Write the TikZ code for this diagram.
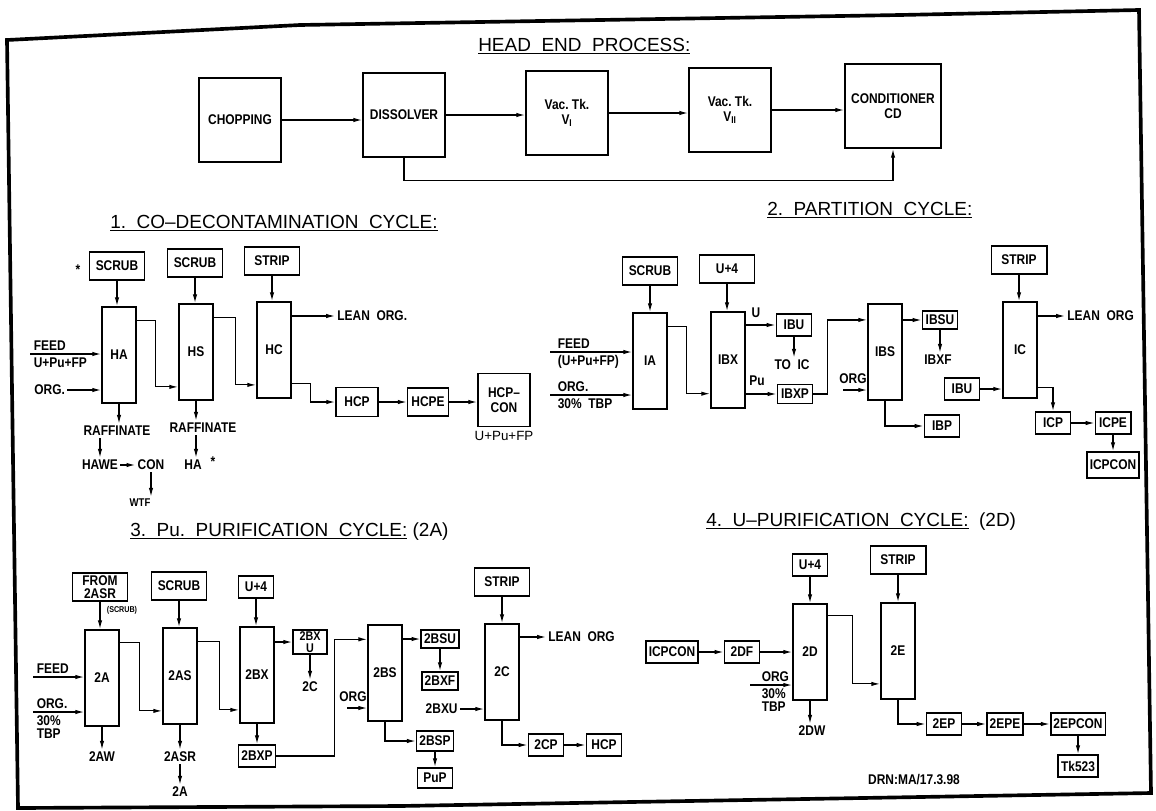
\documentclass[tikz,border=0pt]{standalone}
\usepackage{fontspec}
\setmainfont{Liberation Sans}[FakeStretch=0.85]
\newfontfamily\cyclefamily{Liberation Sans}[Ligatures=TeX]
\newcommand\unitfont{\bfseries\fontsize{10}{11}\selectfont}
\newcommand\cyclefont{\cyclefamily\fontsize{13.5}{15}\selectfont}
\usetikzlibrary{arrows.meta,positioning}
\tikzset{
  vessel/.style={draw, line width=1.25pt, inner sep=2pt, font=\unitfont, align=center},
  col/.style={vessel, minimum width=0.85cm, minimum height=2.4cm},
  tank/.style={vessel, minimum width=2.05cm, minimum height=2.1cm},
  feedbox/.style={vessel, minimum width=1.38cm, minimum height=0.7cm},
  smallbox/.style={vessel, minimum width=0.88cm, minimum height=0.55cm},
  lbl/.style={inner sep=1.5pt, font=\unitfont, align=center},
  linelbl/.style={lbl, inner sep=2.5pt, align=left},
  cycletitle/.style={anchor=base west, inner sep=0pt, font=\cyclefont},
  flow/.style={-{Latex[length=2.2mm,width=1.1mm]}, line width=0.85pt},
}
\begin{document}
\begin{tikzpicture}[x=0.025cm, y=-0.025cm]
\useasboundingbox (0,0) rectangle (1156,810);
\draw[line width=2.6pt] (7,40) -- (300,25) -- (900,15) -- (1139,10) -- (1151,793) -- (400,806) -- (18,808) -- cycle;

\node[cycletitle] (headT) at (478,51) {\underline{HEAD\ \ END\ \ PROCESS:}};
\node[tank] (chop) at (240,120) {CHOPPING};
\node[tank] (diss) at (404,115) {DISSOLVER};
\node[tank] (vacA) at (567,113) {Vac.\ Tk.\\V\textsubscript{I}};
\node[tank] (vacB) at (730,110) {Vac.\ Tk.\\V\textsubscript{II}};
\node[tank, minimum width=2.4cm] (cond) at (893,106) {CONDITIONER\\CD};
\draw[flow] (chop.east) -- (chop.east -| diss.west);
\draw[flow] (diss.east) -- (diss.east -| vacA.west);
\draw[flow] (vacA.east) -- (vacA.east -| vacB.west);
\draw[flow] (vacB.east) -- (vacB.east -| cond.west);
\draw[flow] (diss.south) -- ++(0,23) -| (cond.south);

\node[cycletitle] (coT) at (110,228) {\underline{1.\ \ CO--DECONTAMINATION\ \ CYCLE:}};
\node[lbl] (starA) at (78,270) {*};
\node[feedbox] (scrubA) at (117,266) {SCRUB};
\node[feedbox] (scrubB) at (195,263) {SCRUB};
\node[feedbox] (stripA) at (272,261) {STRIP};
\node[col] (HA) at (119,355) {HA};
\node[col] (HS) at (196,352) {HS};
\node[col] (HC) at (274,350) {HC};
\draw[flow] (scrubA.south) -- (scrubA.south |- HA.north);
\draw[flow] (scrubB.south) -- (scrubB.south |- HS.north);
\draw[flow] (stripA.south) -- (stripA.south |- HC.north);
\coordinate (feedAin) at (30,354);
\node[linelbl, anchor=south west] (feedA) at (feedAin) {FEED};
\node[linelbl, anchor=north west] (feedAu) at (feedAin) {U+Pu+FP};
\draw[flow] (feedAin) -- (feedAin -| HA.west);
\node[lbl, anchor=west] (orgA) at (32,390) {ORG.};
\draw[flow] (orgA.east) -- (orgA.east -| HA.west);
\draw[flow] ([yshift=-0.35cm]HA.north east) -- ++(19,0) |- ([yshift=0.35cm]HS.south west);
\draw[flow] ([yshift=-0.35cm]HS.north east) -- ++(22,0) |- ([yshift=0.35cm]HC.south west);
\node[lbl, anchor=west] (leanA) at (335,316) {LEAN\ \ ORG.};
\draw[flow] (leanA.west -| HC.east) -- (leanA.west);
\node[vessel, minimum width=1.05cm, minimum height=0.72cm] (hcpA) at (357,402) {HCP};
\node[vessel, minimum width=1.02cm, minimum height=0.7cm] (hcpe) at (428,402) {HCPE};
\node[vessel, minimum width=1.3cm, minimum height=1.32cm] (hcpcon) at (504,400) {HCP--\\CON};
\node[lbl, font=\cyclefamily\fontsize{9.5}{10}\selectfont, below=1pt of hcpcon] (hcpconU) {U+Pu+FP};
\draw[flow] ([yshift=0.38cm]HC.south east) -- ++(19,0) |- (hcpA.west);
\draw[flow] (hcpA) -- (hcpe);
\draw[flow] (hcpe.east) -- (hcpe.east -| hcpcon.west);
\node[lbl] (rafA) at (117,431) {RAFFINATE};
\draw[flow] (HA.south) -- (HA.south |- rafA.north);
\node[lbl] (hawe) at (100,465) {HAWE};
\draw[flow] (rafA.south -| hawe) -- (hawe.north);
\node[lbl] (conA) at (151,465) {CON};
\draw[flow] (hawe) -- (conA);
\node[lbl, font=\bfseries\fontsize{8}{9}\selectfont] (wtf) at (140,503) {WTF};
\draw[flow] (conA.south) -- (conA.south |- wtf.north);
\node[lbl] (rafB) at (203,428) {RAFFINATE};
\draw[flow] (HS.south) -- (HS.south |- rafB.north);
\node[lbl] (haB) at (193,465) {HA};
\node[lbl] (starB) at (213,462) {*};
\draw[flow] (rafB.south -| HS.south) -- (HS.south |- haB.north);

\node[cycletitle] (partT) at (767,215) {\underline{2.\ \ PARTITION\ \ CYCLE:}};
\node[feedbox] (scrubC) at (650,271) {SCRUB};
\node[feedbox] (uplusA) at (727,269) {U+4};
\node[col] (IA) at (650,361) {IA};
\node[col] (IBX) at (728,360) {IBX};
\draw[flow] (scrubC.south) -- (scrubC.south |- IA.north);
\draw[flow] (uplusA.south) -- (uplusA.south |- IBX.north);
\coordinate (feedBin) at (550,352);
\node[linelbl, anchor=south west] (feedB) at ([xshift=0.1cm]feedBin) {FEED};
\node[linelbl, anchor=north west] (feedBu) at ([xshift=0.1cm]feedBin) {(U+Pu+FP)};
\draw[flow] (feedBin) -- (feedBin -| IA.west);
\coordinate (orgBin) at (550,395);
\node[linelbl, anchor=south west] (orgB) at ([xshift=0.1cm]orgBin) {ORG.};
\node[linelbl, anchor=north west] (tbpB) at ([xshift=0.1cm]orgBin) {30\%\ \ TBP};
\draw[flow] (orgBin) -- (orgBin -| IA.west);
\draw[flow] ([yshift=-0.35cm]IA.north east) -- ++(19,0) |- ([yshift=0.38cm]IBX.south west);
\node[smallbox] (ibuA) at (794,325) {IBU};
\node[lbl] (uOut) at (756,313) {U};
\draw[flow] (ibuA.west -| IBX.east) -- (ibuA.west);
\node[lbl] (toic) at (792,365) {TO\ \ IC};
\draw[flow] (ibuA.south) -- (ibuA.south |- toic.north);
\node[smallbox, minimum height=0.48cm] (ibxp) at (795,394) {IBXP};
\node[lbl] (puOut) at (757,381) {Pu};
\draw[flow] (ibxp.west -| IBX.east) -- (ibxp.west);
\node[col] (IBS) at (885,352) {IBS};
\draw[flow] (ibxp.east) -- ++(14,0) |- ([yshift=-0.42cm]IBS.north west);
\coordinate (orgCin) at (843,390);
\node[lbl] (orgC) at (853,379) {ORG};
\draw[flow] (orgCin) -- (orgCin -| IBS.west);
\node[smallbox, minimum height=0.45cm] (ibsu) at (940,320) {IBSU};
\draw[flow] (ibsu.west -| IBS.east) -- (ibsu.west);
\node[lbl] (ibxf) at (938,360) {IBXF};
\draw[flow] (ibsu.south) -- (ibsu.south |- ibxf.north);
\node[smallbox] (ibp) at (942,426) {IBP};
\draw[flow] (IBS.south) |- (ibp.west);
\node[feedbox] (stripB) at (1019,260) {STRIP};
\node[col] (IC) at (1020,350) {IC};
\draw[flow] (stripB.south) -- (stripB.south |- IC.north);
\node[lbl, anchor=west] (leanB) at (1065,316) {LEAN\ \ ORG};
\draw[flow] (leanB.west -| IC.east) -- (leanB.west);
\node[smallbox] (ibuB) at (962,389) {IBU};
\draw[flow] (ibuB.east) -- (ibuB.east -| IC.west);
\node[smallbox] (icp) at (1053,423) {ICP};
\node[smallbox] (icpe) at (1113,423) {ICPE};
\node[smallbox, minimum height=0.65cm] (icpconA) at (1113,465) {ICPCON};
\draw[flow] ([yshift=0.28cm]IC.south east) -| (icp.north);
\draw[flow] (icp) -- (icpe);
\draw[flow] (icpe) -- (icpconA);

\node[cycletitle] (puT) at (130,536) {\underline{3.\ \ Pu.\ \ PURIFICATION\ \ CYCLE:}\ (2A)};
\node[feedbox, inner sep=1pt] (fromA) at (100,587) {FROM\\[-2pt]2ASR};
\node[lbl, font=\bfseries\fontsize{6}{7}\selectfont] (scrubNote) at (122,610) {(SCRUB)};
\node[feedbox] (scrubD) at (179,586) {SCRUB};
\node[smallbox] (uplusB) at (256,587) {U+4};
\node[col] (pA) at (102,678) {2A};
\node[col] (pAS) at (180,676) {2AS};
\node[col] (pBX) at (257,675) {2BX};
\draw[flow] (fromA.south) -- (fromA.south |- pA.north);
\draw[flow] (scrubD.south) -- (scrubD.south |- pAS.north);
\draw[flow] (uplusB.south) -- (uplusB.south |- pBX.north);
\coordinate (feedCin) at (33,677);
\node[linelbl, anchor=south west] (feedC) at (feedCin) {FEED};
\draw[flow] (feedCin) -- (feedCin -| pA.west);
\coordinate (orgDin) at (33,712);
\node[linelbl, anchor=south west] (orgD) at (orgDin) {ORG.};
\node[linelbl, anchor=north west] (tbpD) at (orgDin) {30\%\\[-2pt]TBP};
\draw[flow] (orgDin) -- (orgDin -| pA.west);
\draw[flow] ([yshift=-0.33cm]pA.north east) -- ++(20,0) |- ([yshift=0.35cm]pAS.south west);
\draw[flow] ([yshift=-0.35cm]pAS.north east) -- ++(22,0) |- ([yshift=0.35cm]pBX.south west);
\node[lbl] (aw) at (102,757) {2AW};
\draw[flow] (pA.south) -- (pA.south |- aw.north);
\node[lbl] (asr) at (180,757) {2ASR};
\draw[flow] (pAS.south) -- (pAS.south |- asr.north);
\node[lbl] (asrA) at (180,792) {2A};
\draw[flow] (asr.south) -- (asrA.north);
\node[smallbox] (bxp) at (257,756) {2BXP};
\draw[flow] (pBX.south) -- (bxp.north);
\node[vessel, inner sep=1pt, minimum width=0.85cm, font=\bfseries\fontsize{9}{10}\selectfont] (bxu) at (310,642) {2BX\\[-1pt]U};
\draw[flow] (bxu.west -| pBX.east) -- (bxu.west);
\node[lbl] (bxuC) at (310,687) {2C};
\draw[flow] (bxu.south) -- (bxu.south |- bxuC.north);
\node[col] (pBS) at (385,673) {2BS};
\draw[flow] (bxp.east) -- ++(58,0) |- ([yshift=-0.38cm]pBS.north west);
\coordinate (orgEin) at (347,708);
\node[lbl] (orgE) at (353,697) {ORG};
\draw[flow] (orgEin) -- (orgEin -| pBS.west);
\node[smallbox, minimum height=0.45cm] (bsu) at (440,639) {2BSU};
\draw[flow] (bsu.west -| pBS.east) -- (bsu.west);
\node[smallbox, minimum height=0.45cm] (bxf) at (440,681) {2BXF};
\draw[flow] (bsu.south) -- (bxf.north);
\node[smallbox, minimum height=0.5cm] (bsp) at (435,741) {2BSP};
\draw[flow] (pBS.south) |- (bsp.west);
\node[smallbox, minimum height=0.5cm] (pup) at (435,778) {PuP};
\draw[flow] (bsp.south) -- (pup.north);
\node[feedbox] (stripC) at (502,582) {STRIP};
\node[col] (pC) at (502,672) {2C};
\draw[flow] (stripC.south) -- (stripC.south |- pC.north);
\node[lbl, anchor=west] (leanC) at (546,637) {LEAN\ \ ORG};
\draw[flow] (leanC.west -| pC.east) -- (leanC.west);
\node[lbl, anchor=east] (bxuIn) at (460,709) {2BXU};
\draw[flow] (bxuIn.east) -- (bxuIn.east -| pC.west);
\node[smallbox] (cp) at (546,745) {2CP};
\node[smallbox] (hcpB) at (604,745) {HCP};
\draw[flow] (pC.south) |- (cp.west);
\draw[flow] (cp) -- (hcpB);

\node[cycletitle] (uT) at (706,526) {\underline{4.\ \ U--PURIFICATION\ \ CYCLE:}\ \ (2D)};
\node[smallbox] (uplusC) at (810,565) {U+4};
\node[col] (uD) at (810,652) {2D};
\draw[flow] (uplusC.south) -- (uplusC.south |- uD.north);
\node[smallbox] (icpconB) at (672,652) {ICPCON};
\node[smallbox] (df) at (742,652) {2DF};
\draw[flow] (icpconB) -- (df);
\draw[flow] (df.east) -- (df.east -| uD.west);
\coordinate (orgFin) at (750,685);
\node[linelbl, anchor=south west] (orgF) at ([xshift=0.2cm]orgFin) {ORG};
\node[linelbl, anchor=north west] (tbpF) at ([xshift=0.2cm]orgFin) {30\%\\[-2pt]TBP};
\draw[flow] (orgFin) -- (orgFin -| uD.west);
\node[lbl] (dw) at (812,731) {2DW};
\draw[flow] (uD.south) -- (uD.south |- dw.north);
\node[feedbox] (stripD) at (898,560) {STRIP};
\node[col] (uE) at (898,651) {2E};
\draw[flow] (stripD.south) -- (stripD.south |- uE.north);
\draw[flow] ([yshift=-0.3cm]uD.north east) -- ++(25,0) |- ([yshift=0.4cm]uE.south west);
\node[smallbox] (ep) at (944,724) {2EP};
\node[smallbox] (epe) at (1005,724) {2EPE};
\node[smallbox] (epcon) at (1078,724) {2EPCON};
\node[smallbox] (tk) at (1078,766) {Tk523};
\draw[flow] (uE.south) |- (ep.west);
\draw[flow] (ep) -- (epe);
\draw[flow] (epe) -- (epcon);
\draw[flow] (epcon) -- (tk);
\node[lbl] (drn) at (914,780) {DRN:MA/17.3.98};
\end{tikzpicture}
\end{document}
